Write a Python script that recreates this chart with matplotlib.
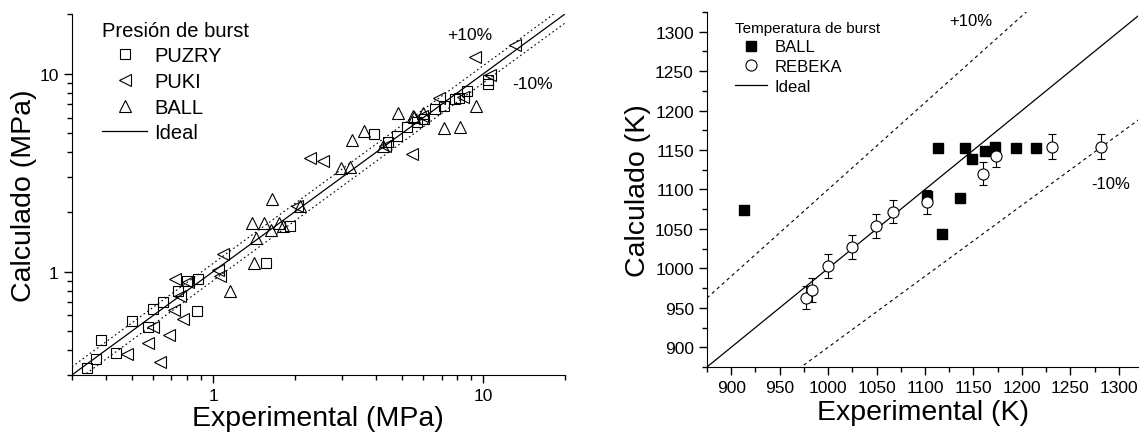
import numpy as np
import matplotlib
matplotlib.use("Agg")
import matplotlib.pyplot as plt
from matplotlib.lines import Line2D
from matplotlib.ticker import LogLocator, NullFormatter, FixedLocator, MultipleLocator

plt.rcParams['font.family'] = ['Liberation Sans', 'DejaVu Sans']

# presion de burst (MPa): experimental vs calculado
puzry_exp = [0.34, 0.369, 0.383, 0.437, 0.50, 0.576, 0.601, 0.651, 0.738, 0.80, 0.88, 0.87,
             1.57, 1.93, 3.93, 4.42, 4.79, 5.21, 5.68, 6.04, 6.64, 7.13, 7.88, 8.1, 8.7, 10.4, 10.4]
puzry_calc = [0.325, 0.361, 0.452, 0.387, 0.56, 0.524, 0.647, 0.698, 0.794, 0.893, 0.918, 0.629,
              1.107, 1.70, 4.96, 4.54, 4.83, 5.36, 5.73, 5.91, 6.63, 6.9, 7.46, 7.52, 8.13, 9.25, 8.9]
puki_exp = [0.479, 0.601, 0.573, 0.637, 0.689, 0.717, 0.776, 0.723, 0.755, 0.81, 1.046, 1.06,
            1.09, 2.04, 2.29, 2.55, 5.44, 4.33, 5.9, 6.83, 8.4, 9.34, 13.1, 10.6]
puki_calc = [0.384, 0.527, 0.435, 0.347, 0.479, 0.641, 0.575, 0.918, 0.755, 0.883, 1.02, 0.954,
             1.22, 2.14, 3.75, 3.63, 3.93, 4.3, 6.1, 7.55, 7.6, 12.2, 14.0, 9.8]
ball_p_exp = [1.156, 1.41, 1.65, 1.39, 1.54, 1.44, 1.63, 1.75, 1.82, 2.1, 2.97, 3.2, 3.26, 3.62,
              4.82, 4.25, 5.52, 6.0, 7.13, 8.17, 9.4, 5.5]
ball_p_calc = [0.794, 1.107, 2.34, 1.75, 1.75, 1.48, 1.63, 1.75, 1.69, 2.14, 3.32, 3.36, 4.64, 5.12,
               6.32, 4.33, 6.05, 6.3, 5.30, 5.36, 6.85, 6.1]

# temperatura de burst (K)
ball_t_exp = [913, 1102, 1113, 1118, 1136, 1141, 1148, 1162, 1172, 1194, 1214]
ball_t_calc = [1074, 1092, 1153, 1043, 1089, 1153, 1139, 1149, 1154, 1153, 1153]
rebeka_exp = [977, 983, 1000, 1025, 1049, 1067, 1102, 1160, 1173, 1231, 1282]
rebeka_calc = [963, 973, 1003, 1027, 1054, 1072, 1084, 1120, 1143, 1154, 1154]
rebeka_err = [15, 15, 15, 15, 15, 15, 15, 15, 15, 16, 16]

fig = plt.figure(figsize=(11.41, 4.39), dpi=100)

# ---- panel izquierdo: presion ----
ax1 = fig.add_axes([0.063, 0.1435, 0.432, 0.822])
lim1 = (0.3, 20)
xx = np.array(lim1)
ax1.plot(xx, xx, color='black', lw=0.9)
ax1.plot(xx, xx * 1.1, color='black', lw=0.8, ls=(0, (1.5, 2.5)))
ax1.plot(xx, xx * 0.9, color='black', lw=0.8, ls=(0, (1.5, 2.5)))
mk = dict(ls='none', mfc='none', mec='black', mew=0.8)
ax1.plot(puzry_exp, puzry_calc, marker='s', ms=7, **mk)
ax1.plot(puki_exp, puki_calc, marker='<', ms=8, **mk)
ax1.plot(ball_p_exp, ball_p_calc, marker='^', ms=8, **mk)
ax1.set_xscale('log')
ax1.set_yscale('log')
ax1.set_xlim(lim1)
ax1.set_ylim(lim1)
for axis in (ax1.xaxis, ax1.yaxis):
    axis.set_major_locator(FixedLocator([1, 10]))
    axis.set_minor_locator(LogLocator(base=10, subs=np.arange(2, 10)))
    axis.set_minor_formatter(NullFormatter())
ax1.set_xticklabels(['1', '10'])
ax1.set_yticklabels(['1', '10'])
ax1.set_xlabel('Experimental (MPa)', fontsize=20.5, labelpad=1)
ax1.set_ylabel('Calculado (MPa)', fontsize=20.5, labelpad=2)
ax1.text(8.9, 15.8, '+10%', fontsize=12.5, ha='center', va='center')
ax1.text(15.2, 8.9, '-10%', fontsize=12.5, ha='center', va='center')
h1 = [Line2D([], [], marker='s', ms=7, **mk),
      Line2D([], [], marker='<', ms=8, **mk),
      Line2D([], [], marker='^', ms=8, **mk),
      Line2D([], [], color='black', lw=0.9)]
ax1.legend(h1, ['PUZRY', 'PUKI', 'BALL', 'Ideal'], title='Presión de burst',
           loc='upper left', bbox_to_anchor=(0.061, 0.982), frameon=False, fontsize=14.5,
           title_fontsize=14.5, handlelength=2.25, handletextpad=0.35, labelspacing=0.33,
           alignment='left', borderaxespad=0, borderpad=0)

# ---- panel derecho: temperatura ----
ax2 = fig.add_axes([0.6196, 0.1617, 0.378, 0.809])
tt = np.array([875, 1325])
ax2.plot(tt, tt, color='black', lw=0.9)
ax2.plot(tt, tt * 1.1, color='black', lw=0.8, ls=(0, (3, 3)))
ax2.plot(tt, tt * 0.9, color='black', lw=0.8, ls=(0, (3, 3)))
ax2.errorbar(rebeka_exp, rebeka_calc, yerr=rebeka_err, fmt='o', ms=8, mfc='white',
             mec='black', mew=0.8, ecolor='black', elinewidth=0.8, capsize=3, capthick=0.8)
ax2.plot(ball_t_exp, ball_t_calc, ls='none', marker='s', ms=7, color='black')
ax2.set_xlim(875, 1320)
ax2.set_ylim(875, 1325)
ax2.xaxis.set_major_locator(MultipleLocator(50))
ax2.xaxis.set_minor_locator(MultipleLocator(25))
ax2.yaxis.set_major_locator(MultipleLocator(50))
ax2.yaxis.set_minor_locator(MultipleLocator(25))
ax2.set_xlabel('Experimental (K)', fontsize=20.5, labelpad=3)
ax2.set_ylabel('Calculado (K)', fontsize=20.5, labelpad=3)
ax2.text(1147, 1314, '+10%', fontsize=12, ha='center', va='center')
ax2.text(1292, 1107, '-10%', fontsize=12, ha='center', va='center')
h2 = [Line2D([], [], ls='none', marker='s', ms=7, color='black'),
      Line2D([], [], ls='none', marker='o', ms=8, mfc='white', mec='black', mew=0.8),
      Line2D([], [], color='black', lw=0.9)]
ax2.legend(h2, ['BALL', 'REBEKA', 'Ideal'], title='Temperatura de burst',
           loc='upper left', bbox_to_anchor=(0.065, 0.975), frameon=False, fontsize=12,
           title_fontsize=11, handlelength=1.9, handletextpad=0.5, labelspacing=0.28,
           alignment='left', borderaxespad=0, borderpad=0)

for ax in (ax1, ax2):
    ax.spines['top'].set_visible(False)
    ax.spines['right'].set_visible(False)
    ax.tick_params(which='major', direction='out', length=6, width=1, labelsize=12.5)
    ax.tick_params(which='minor', direction='out', length=3.5, width=1)

fig.savefig('out.png', dpi=100)
